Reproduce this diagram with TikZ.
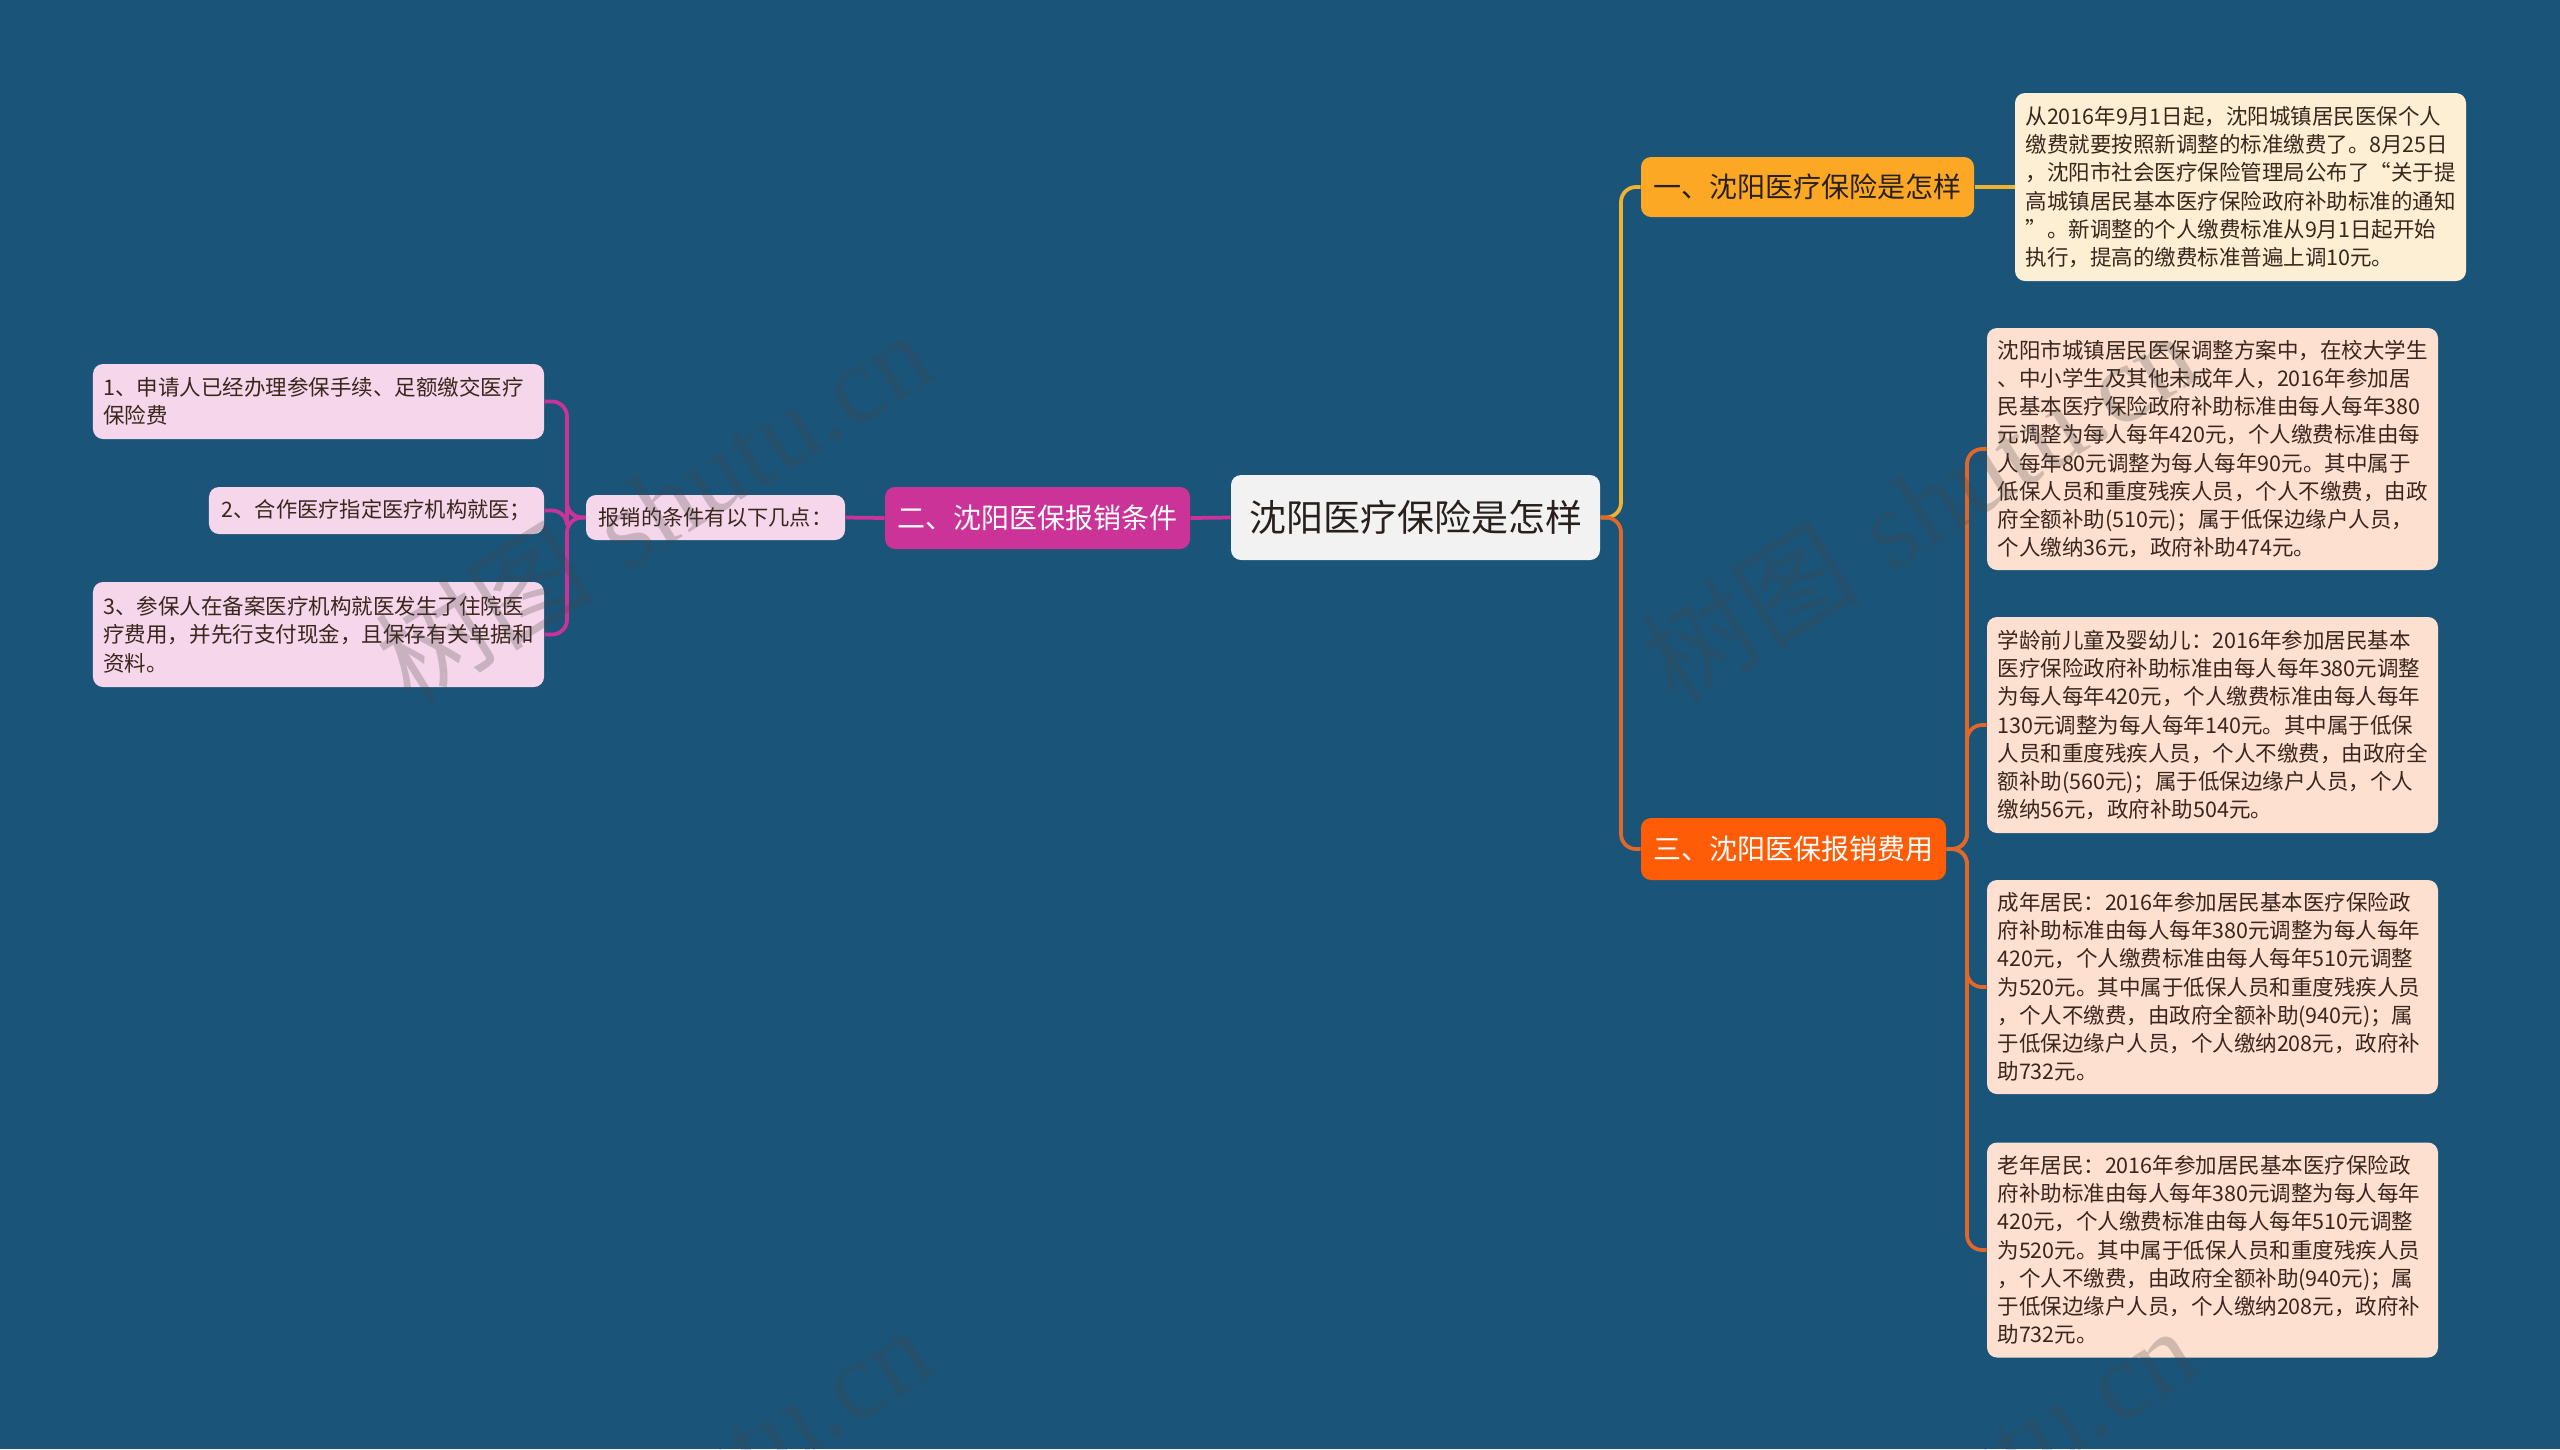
\documentclass[tikz,border=0pt]{standalone}
\usepackage{fontspec}
\newfontfamily\cjk{Noto Sans CJK SC}
\newfontfamily\wmserif{Liberation Serif}
\definecolor{bg}{RGB}{26,84,121}
\definecolor{rootfill}{RGB}{242,242,242}
\definecolor{amber}{RGB}{252,168,36}
\definecolor{amberline}{RGB}{240,178,48}
\definecolor{orangefill}{RGB}{254,92,6}
\definecolor{orangeline}{RGB}{226,104,42}
\definecolor{magenta}{RGB}{204,51,153}
\definecolor{pink}{RGB}{245,214,234}
\definecolor{cream}{RGB}{253,239,212}
\definecolor{peach}{RGB}{253,224,208}
\definecolor{leaftext}{RGB}{58,38,28}
\definecolor{darktext}{RGB}{40,32,28}
\definecolor{wmgray}{RGB}{70,70,70}
\tikzset{
  boxbase/.style={rounded corners=4pt, anchor=center, inner sep=0pt},
  leafbox/.style={boxbase, inner xsep=4.2pt, align=left, text width=172pt,
    font=\cjk\fontsize{8.6pt}{11.3pt}\selectfont, text=leaftext},
  peachleaf/.style={leafbox, fill=peach},
  creamleaf/.style={leafbox, fill=cream},
  pinkleaf/.style={leafbox, fill=pink},
  pinksingle/.style={boxbase, fill=pink, align=center, text=leaftext,
    font=\cjk\fontsize{8.5pt}{11pt}\selectfont},
  branchbox/.style={boxbase, align=center, font=\cjk\fontsize{11.2pt}{13pt}\selectfont,
    minimum width=122pt, minimum height=24.8pt},
  rootbox/.style={boxbase, fill=rootfill, align=center, text=darktext,
    font=\cjk\fontsize{14.8pt}{17pt}\selectfont, minimum width=147.6pt, minimum height=34pt},
  conn/.style={line width=1.5pt, rounded corners=6pt},
  wm/.style={text=wmgray, opacity=0.25, font=\fontsize{44pt}{50pt}\selectfont, rotate=32, inner sep=0pt}
}
\begin{document}
\begin{tikzpicture}[x=0.4pt,y=-0.4pt]
\fill[bg] (0,0) rectangle (2560,1449);
\useasboundingbox (0,0) rectangle (2560,1449);

% root and main branches
\node[rootbox] (root) at (1415.5,517.5) {沈阳医疗保险是怎样};
\node[branchbox, fill=amber, text=darktext, minimum width=133.2pt, minimum height=24pt] (b1) at (1807.5,187) {一、沈阳医疗保险是怎样};
\node[branchbox, fill=orangefill, text=white] (b3) at (1793.5,849) {三、沈阳医保报销费用};
\node[branchbox, fill=magenta, text=white] (b2) at (1037.5,518) {二、沈阳医保报销条件};

% left side
\node[pinksingle, minimum width=103.6pt, minimum height=18pt] (sub) at (715.5,517.5) {报销的条件有以下几点：};
\node[pinkleaf, minimum height=30pt] (l1) at (318.5,401.5) {1、申请人已经办理参保手续、足额缴交医疗\\保险费};
\node[pinksingle, minimum width=134pt, minimum height=18.8pt] (l2) at (376.5,510.5) {2、合作医疗指定医疗机构就医；};
\node[pinkleaf, minimum height=42pt] (l3) at (318.5,634.5) {3、参保人在备案医疗机构就医发生了住院医\\疗费用，并先行支付现金，且保存有关单据和\\资料。};

% right side
\node[creamleaf, minimum height=75.2pt] (r0) at (2240.5,187) {从2016年9月1日起，沈阳城镇居民医保个人\\缴费就要按照新调整的标准缴费了。8月25日\\，沈阳市社会医疗保险管理局公布了“关于提\\高城镇居民基本医疗保险政府补助标准的通知\\”。新调整的个人缴费标准从9月1日起开始\\执行，提高的缴费标准普遍上调10元。};
\node[peachleaf, minimum height=96.8pt] (r1) at (2212.5,449) {沈阳市城镇居民医保调整方案中，在校大学生\\、中小学生及其他未成年人，2016年参加居\\民基本医疗保险政府补助标准由每人每年380\\元调整为每人每年420元，个人缴费标准由每\\人每年80元调整为每人每年90元。其中属于\\低保人员和重度残疾人员，个人不缴费，由政\\府全额补助(510元)；属于低保边缘户人员，\\个人缴纳36元，政府补助474元。};
\node[peachleaf, minimum height=86.4pt] (r2) at (2212.5,725) {学龄前儿童及婴幼儿：2016年参加居民基本\\医疗保险政府补助标准由每人每年380元调整\\为每人每年420元，个人缴费标准由每人每年\\130元调整为每人每年140元。其中属于低保\\人员和重度残疾人员，个人不缴费，由政府全\\额补助(560元)；属于低保边缘户人员，个人\\缴纳56元，政府补助504元。};
\node[peachleaf, minimum height=85.6pt] (r3) at (2212.5,987) {成年居民：2016年参加居民基本医疗保险政\\府补助标准由每人每年380元调整为每人每年\\420元，个人缴费标准由每人每年510元调整\\为520元。其中属于低保人员和重度残疾人员\\，个人不缴费，由政府全额补助(940元)；属\\于低保边缘户人员，个人缴纳208元，政府补\\助732元。};
\node[peachleaf, minimum height=86pt] (r4) at (2212.5,1250) {老年居民：2016年参加居民基本医疗保险政\\府补助标准由每人每年380元调整为每人每年\\420元，个人缴费标准由每人每年510元调整\\为520元。其中属于低保人员和重度残疾人员\\，个人不缴费，由政府全额补助(940元)；属\\于低保边缘户人员，个人缴纳208元，政府补\\助732元。};

% connectors right
\coordinate (jr) at (1621,517.5);
\coordinate (j3) at (1967,849);
\coordinate (jl) at (567,517.5);
\begin{scope}[on background layer/.style={}]
\draw[conn, amberline] (root.east) -- (jr) |- (b1.west);
\draw[conn, orangeline] (root.east) -- (jr) |- (b3.west);
\draw[conn, amberline] (b1.east) -- (r0.west);
\foreach \r in {r1,r2,r3,r4}{
  \draw[conn, orangeline] (b3.east) -- (j3) |- (\r.west);
}
% connectors left
\draw[conn, magenta] (root.west) -- (b2.east);
\draw[conn, magenta] (b2.west) -- (sub.east);
\foreach \l in {l1,l2,l3}{
  \draw[conn, magenta] (sub.west) -- (jl) |- (\l.east);
}
\end{scope}

% watermarks
\node[wm] (wm1) at (653,506) {{\cjk 树图} {\wmserif shutu.cn}};
\node[wm] (wm2) at (1918,506) {{\cjk 树图} {\wmserif shutu.cn}};
\node[wm] (wm3) at (653,1502) {{\cjk 树图} {\wmserif shutu.cn}};
\node[wm] (wm4) at (1918,1502) {{\cjk 树图} {\wmserif shutu.cn}};
\end{tikzpicture}
\end{document}
